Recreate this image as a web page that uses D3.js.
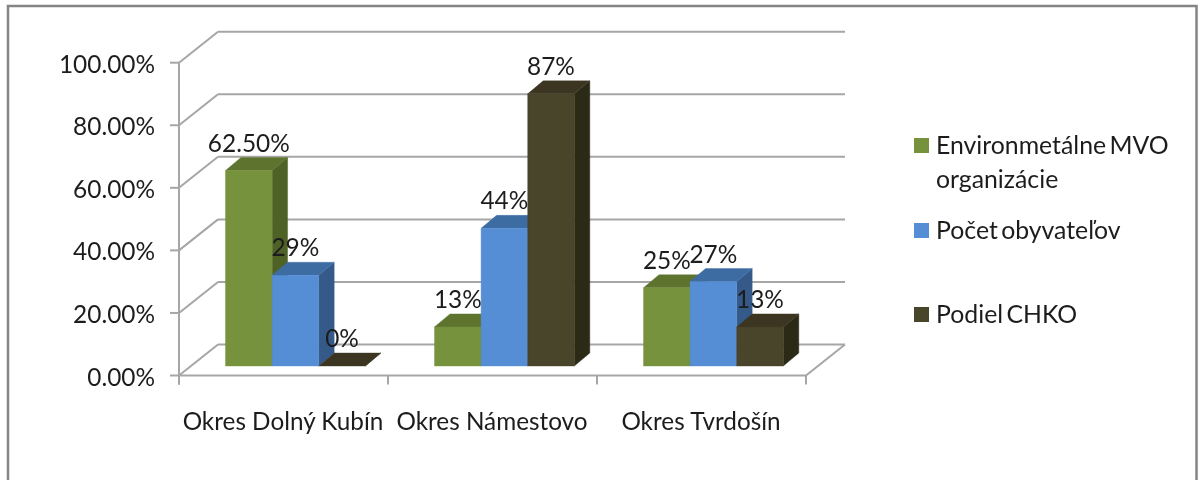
<!DOCTYPE html>
<html><head><meta charset="utf-8">
<script src="https://cdnjs.cloudflare.com/ajax/libs/d3/7.8.5/d3.min.js"></script>
<style>html,body{margin:0;padding:0;background:#fff;overflow:hidden}svg{display:block}text{font-family:Lato,"Open Sans",sans-serif;fill:#1c1c1c}</style>
</head><body><svg id="c" width="1199" height="480"></svg>
<script>
const categories=["Okres Dolný Kubín","Okres Námestovo","Okres Tvrdošín"];
const seriesNames=["Environmetálne MVO organizácie","Počet obyvateľov","Podiel CHKO"];
const seriesValues=[[62.5,12.5,25],[29,44,27],[0,87,12.5]];
const seriesLabels=[["62.50%","13%","25%"],["29%","44%","27%"],["0%","87%","13%"]];
const yTicks=[0,20,40,60,80,100];
const frontColors=["#76923c","#558ed5","#4a442a"];
const topColors=["#5d732f","#3e6ca3","#3b3621"];
const sideColors=["#4f6228","#345a8a","#2c2917"];

const svg=d3.select("#c");
const f=svg.append("defs").append("filter").attr("id","soft");
f.append("feGaussianBlur").attr("stdDeviation",0.5);
const g=svg.append("g").attr("filter","url(#soft)");

g.append("path").attr("d","M8,480V6H1196.5V480").attr("fill","none").attr("stroke","#858585").attr("stroke-width",2.5);

const x0=179,wallDx=39,wallDy=31;
const y=d3.scaleLinear().domain([0,100]).range([375.5,62.7]);
const xCat=d3.scaleBand().domain(categories).range([x0,806]);
const grid="#a6a6a6";
const line=(a,b,c,d,w=2)=>g.append("line").attr("x1",a).attr("y1",b).attr("x2",c).attr("y2",d).attr("stroke",grid).attr("stroke-width",w);

yTicks.forEach(t=>{
  const yy=y(t);
  line(x0,yy,x0+wallDx,yy-wallDy);
  line(x0+wallDx,yy-wallDy,806+wallDx,yy-wallDy);
  line(x0-9,yy,x0,yy);
  g.append("text").attr("x",155).attr("y",yy+10).attr("text-anchor","end").attr("font-size",24.4).text(d3.format(".2f")(t)+"%");
});
line(x0,y(0)+9,x0,y(100));
line(x0,y(0),806,y(0));
line(806,y(0),806+wallDx,y(0)-wallDy);
[...categories.map(c=>xCat(c)),806].forEach(v=>line(v,y(0),v,y(0)+9));
categories.forEach(c=>g.append("text").attr("x",xCat(c)+xCat.bandwidth()/2-0.5).attr("y",429.5).attr("text-anchor","middle").attr("font-size",24.3).text(c));

const base=366,barW=46.6,dx=15.5,dy=13,pad=46.5,scale=(y(0)-y(100))/100;
const h=v=>v*scale;
const poly=(pts,fill)=>g.append("polygon").attr("points",pts.map(p=>p.join(",")).join(" ")).attr("fill",fill).attr("stroke",fill).attr("stroke-width",0.4);
const labels=[];
seriesValues.forEach((vals,s)=>{
  vals.forEach((v,c)=>{
    const xl=xCat(categories[c])+pad+s*barW, xr=xl+barW, yt=base-h(v);
    poly([[xr,base],[xr+dx,base-dy],[xr+dx,yt-dy],[xr,yt]],sideColors[s]);
    poly([[xl,yt],[xl+dx,yt-dy],[xr+dx,yt-dy],[xr,yt]],topColors[s]);
    if(v>0)poly([[xl,base],[xl,yt],[xr,yt],[xr,base]],frontColors[s]);
    labels.push([seriesLabels[s][c],xl+barW/2,yt-19]);
  });
});
labels.forEach(l=>g.append("text").attr("x",l[1]).attr("y",l[2]).attr("text-anchor","middle").attr("font-size",24.4).text(l[0]));

const lg=[{y:145.5,lines:["Environmetálne MVO","organizácie"]},{y:230.5,lines:["Počet obyvateľov"]},{y:314.5,lines:["Podiel CHKO"]}];
lg.forEach((d,i)=>{
  g.append("rect").attr("x",914).attr("y",d.y-7.5).attr("width",15).attr("height",15).attr("fill",frontColors[i]);
  d.lines.forEach((t,k)=>g.append("text").attr("x",936).attr("y",d.y+8+k*34).attr("font-size",24.8).attr("word-spacing",-3).text(t));
});
</script></body></html>
